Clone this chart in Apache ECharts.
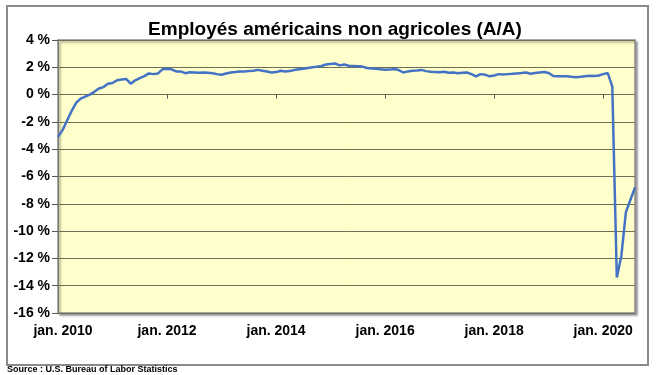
<!DOCTYPE html>
<html>
<head>
<meta charset="utf-8">
<script src="https://cdn.jsdelivr.net/npm/echarts@6/dist/echarts.min.js"></script>
<style>
html,body{margin:0;padding:0;background:#fff;}
#chart{width:658px;height:375px;}
</style>
</head>
<body>
<div id="chart"></div>
<script>
// Data: monthly year-over-year change, Jan 2010 .. Aug 2020
var startYear = 2010;
var monthNames = ['jan.', 'févr.', 'mars', 'avr.', 'mai', 'juin', 'juil.', 'août', 'sept.', 'oct.', 'nov.', 'déc.'];
var values2010 = [-3.1, -2.6, -1.9, -1.2, -0.6, -0.3, -0.15, 0.0, 0.2, 0.45, 0.55, 0.8];
var values2011 = [0.85, 1.05, 1.1, 1.15, 0.8, 1.05, 1.2, 1.35, 1.55, 1.5, 1.55, 1.85];
var values2012 = [1.9, 1.85, 1.7, 1.7, 1.57, 1.64, 1.62, 1.6, 1.62, 1.6, 1.57, 1.5];
var values2013 = [1.45, 1.55, 1.62, 1.65, 1.69, 1.7, 1.72, 1.75, 1.81, 1.75, 1.69, 1.62];
var values2014 = [1.65, 1.75, 1.7, 1.72, 1.8, 1.86, 1.9, 1.95, 2.0, 2.05, 2.1, 2.2];
var values2015 = [2.25, 2.28, 2.14, 2.2, 2.12, 2.1, 2.08, 2.05, 1.95, 1.92, 1.9, 1.85];
var values2016 = [1.82, 1.83, 1.88, 1.8, 1.62, 1.7, 1.75, 1.76, 1.81, 1.72, 1.68, 1.66];
var values2017 = [1.64, 1.68, 1.6, 1.62, 1.56, 1.6, 1.62, 1.5, 1.34, 1.5, 1.46, 1.34];
var values2018 = [1.4, 1.5, 1.48, 1.5, 1.52, 1.55, 1.58, 1.62, 1.53, 1.58, 1.62, 1.65];
var values2019 = [1.58, 1.36, 1.35, 1.34, 1.34, 1.3, 1.28, 1.3, 1.35, 1.38, 1.36, 1.4];
var values2020 = [1.5, 1.58, 0.6, -13.4, -11.8, -8.6, -7.7, -6.8];
var yTicks = [-16, -14, -12, -10, -8, -6, -4, -2, 0, 2, 4];

var values = [].concat(values2010, values2011, values2012, values2013, values2014,
  values2015, values2016, values2017, values2018, values2019, values2020);
var categories = [];
for (var i = 0; i < values.length; i++) {
  var y = startYear + Math.floor(i / 12);
  categories.push(monthNames[i % 12] + ' ' + y);
}

var chart = echarts.init(document.getElementById('chart'), null, {renderer: 'canvas'});
var labelFont = 'Liberation Sans, Arial, sans-serif';
chart.setOption({
  animation: false,
  backgroundColor: '#ffffff',
  title: {
    text: 'Employés américains non agricoles (A/A)',
    left: 330, top: 15, textAlign: 'center',
    textStyle: {fontFamily: labelFont, fontSize: 19, fontWeight: 'bold', color: '#000'}
  },
  graphic: [
    {type: 'rect', shape: {x: 7, y: 6, width: 641, height: 359},
     style: {fill: 'none', stroke: '#8a8a8a', lineWidth: 2}, z: -1},
    {type: 'text', left: 7, top: 365,
     style: {text: 'Source : U.S. Bureau of Labor Statistics', fill: '#000',
       font: 'bold 9px "Liberation Sans", Arial, sans-serif'}}
  ],
  grid: {
    left: 58, right: 23, top: 40, bottom: 62,
    show: true, backgroundColor: '#FFFFCC', borderColor: '#8c8c8c', borderWidth: 1.5,
    shadowColor: 'rgba(0,0,0,0.35)', shadowBlur: 2, shadowOffsetX: 2, shadowOffsetY: 2
  },
  xAxis: [{
    type: 'category', data: categories, boundaryGap: false, position: 'bottom',
    axisLine: {show: false, onZero: false},
    axisTick: {show: false},
    splitLine: {show: false},
    axisLabel: {
      interval: function (idx) { return idx % 24 === 0; },
      margin: 11, color: '#000', fontFamily: labelFont, fontSize: 14, fontWeight: 'bold',
      formatter: function (v, idx) { return idx === 0 ? '{first|' + v + '}' : v; },
      rich: {first: {padding: [0, 0, 0, 10], color: '#000', fontFamily: labelFont, fontSize: 14, fontWeight: 'bold'}}
    }
  }, {
    type: 'category', data: categories, boundaryGap: false, position: 'top',
    axisLine: {show: false, onZero: true},
    axisTick: {show: true, inside: true, length: 4, interval: function (idx) { return idx % 24 === 0 && idx > 0; },
      lineStyle: {color: '#555', width: 1}},
    axisLabel: {show: false},
    splitLine: {show: false}
  }],
  yAxis: {
    type: 'value', min: yTicks[0], max: yTicks[yTicks.length - 1], interval: 2,
    axisLine: {show: true, lineStyle: {color: '#777', width: 1}},
    axisTick: {show: true, length: 6, lineStyle: {color: '#555'}},
    splitLine: {show: true, lineStyle: {color: '#6f6f55', width: 1}},
    axisLabel: {
      margin: 8, color: '#000', fontFamily: labelFont, fontSize: 14, fontWeight: 'bold',
      formatter: function (v) { return v + ' %'; }
    }
  },
  series: [{
    type: 'line', data: values, xAxisIndex: 0, showSymbol: false, symbol: 'none',
    lineStyle: {color: '#4472C4', width: 2.5}, z: 5
  }]
});
</script>
</body>
</html>
